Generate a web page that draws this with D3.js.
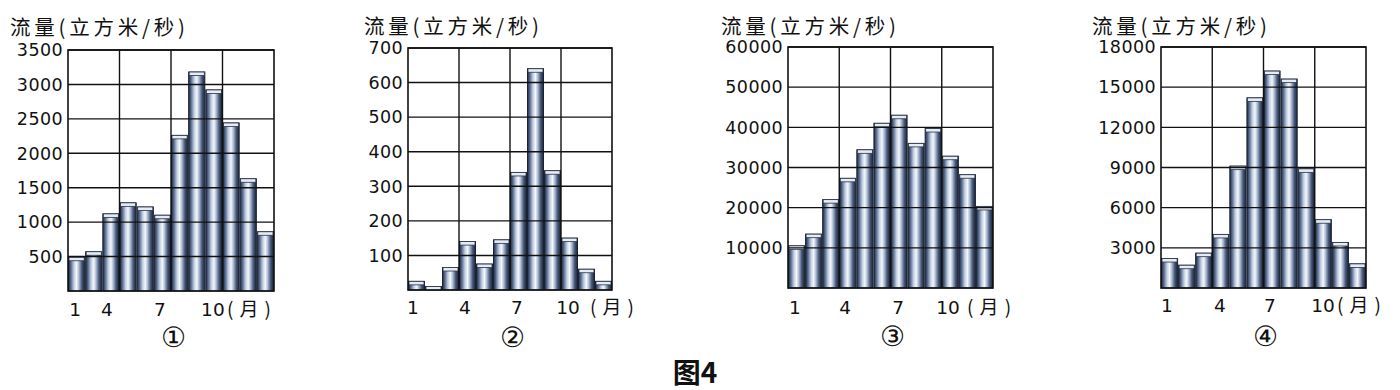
<!DOCTYPE html>
<html>
<head>
<meta charset="utf-8">
<script src="https://cdn.jsdelivr.net/npm/d3@7"></script>
<style>
  body { margin: 0; background: #fff; }
  text { fill: #111; }
</style>
</head>
<body>
<div id="chart"></div>
<script>
// monthly flow data
var months = [1, 2, 3, 4, 5, 6, 7, 8, 9, 10, 11, 12];
var monthLabels = ["1", "4", "7", "10"];
var flow1 = [490, 570, 1120, 1280, 1220, 1100, 2260, 3180, 2920, 2440, 1630, 860];
var flow2 = [25, 10, 65, 140, 75, 145, 340, 640, 345, 150, 60, 25];
var flow3 = [10500, 13400, 22000, 27300, 34400, 41000, 43000, 36000, 39700, 32800, 28200, 20300];
var flow4 = [2200, 1700, 2600, 4000, 9100, 14200, 16200, 15600, 8900, 5100, 3400, 1800];
var yTicks1 = [500, 1000, 1500, 2000, 2500, 3000, 3500];
var yTicks2 = [100, 200, 300, 400, 500, 600, 700];
var yTicks3 = [10000, 20000, 30000, 40000, 50000, 60000];
var yTicks4 = [3000, 6000, 9000, 12000, 15000, 18000];
var yTitle = "流量(立方米/秒)";
var unitLabel = "(月)";
var panelLabels = ["①", "②", "③", "④"];
var figTitle = "图4";

var width = 1400;
var height = 390;

var svg = d3.select("#chart").append("svg")
    .attr("width", width)
    .attr("height", height);

var defs = svg.append("defs");
var grad = defs.append("linearGradient")
    .attr("id", "cyl")
    .attr("x1", "0%").attr("x2", "100%")
    .attr("y1", "0%").attr("y2", "0%");
[[0, "#1e2b42"], [0.14, "#55668a"], [0.34, "#c2cfe2"], [0.5, "#f4f7fc"],
 [0.64, "#aebcd2"], [0.82, "#48587a"], [1, "#1a2436"]].forEach(function (s) {
  grad.append("stop").attr("offset", s[0]).attr("stop-color", s[1]);
});

var panels = [
  { data: flow1, ticks: yTicks1, max: 3500, left: 68, right: 274, top: 50, bottom: 291,
    titleX: 10, titleY: 35, tickAt: [0.91, 2.77, 5.86, 8.94], unitDx: 14, monthY: 316, circleX: 173, circleY: 337 },
  { data: flow2, ticks: yTicks2, max: 700, left: 408, right: 612, top: 48, bottom: 290,
    titleX: 364, titleY: 34, tickAt: [0.79, 3.85, 6.91, 9.91], unitDx: 22, monthY: 314, circleX: 512, circleY: 337 },
  { data: flow3, ticks: yTicks3, max: 60000, left: 788, right: 993, top: 47, bottom: 288,
    titleX: 721, titleY: 34, tickAt: [0.91, 3.84, 6.94, 9.87], unitDx: 19, monthY: 314, circleX: 892, circleY: 336 },
  { data: flow4, ticks: yTicks4, max: 18000, left: 1161, right: 1366, top: 47, bottom: 288,
    titleX: 1092, titleY: 34, tickAt: [0.85, 3.95, 6.88, 9.98], unitDx: 14, monthY: 312, circleX: 1265, circleY: 336 }
];

panels.forEach(function (p, pi) {
  var x = d3.scaleLinear().domain([0.5, 12.5]).range([p.left, p.right]);
  var y = d3.scaleLinear().domain([0, p.max]).range([p.bottom, p.top]);
  var g = svg.append("g");

  // bars
  var bars = g.selectAll(".bar")
      .data(months)
      .enter().append("g")
      .attr("class", "bar");

  bars.append("rect")
      .attr("x", m => x(m - 0.5) + 0.5)
      .attr("width", m => x(m + 0.5) - x(m - 0.5) - 1)
      .attr("y", (m, i) => y(p.data[i]))
      .attr("height", (m, i) => p.bottom - y(p.data[i]))
      .attr("fill", "url(#cyl)")
      .attr("stroke", "#1a2230")
      .attr("stroke-width", 1);

  // light cap on top of each bar
  bars.append("rect")
      .attr("x", m => x(m - 0.5) + 1)
      .attr("width", m => x(m + 0.5) - x(m - 0.5) - 2)
      .attr("y", (m, i) => y(p.data[i]))
      .attr("height", 3.5)
      .attr("fill", "#e6ecf4")
      .attr("stroke", "#2a3346")
      .attr("stroke-width", 0.8);

  // grid on top of bars
  g.selectAll(".hgrid")
      .data(p.ticks)
      .enter().append("line")
      .attr("x1", p.left).attr("x2", p.right)
      .attr("y1", d => y(d)).attr("y2", d => y(d))
      .attr("stroke", "#111").attr("stroke-width", 1.4);

  g.selectAll(".vgrid")
      .data([3.5, 6.5, 9.5])
      .enter().append("line")
      .attr("x1", d => x(d)).attr("x2", d => x(d))
      .attr("y1", p.top).attr("y2", p.bottom)
      .attr("stroke", "#111").attr("stroke-width", 1.4);

  g.append("rect")
      .attr("x", p.left).attr("y", p.top)
      .attr("width", p.right - p.left).attr("height", p.bottom - p.top)
      .attr("fill", "none").attr("stroke", "#111").attr("stroke-width", 1.6);

  // y tick labels
  g.selectAll(".ytick")
      .data(p.ticks)
      .enter().append("text")
      .attr("x", p.left - 5)
      .attr("y", d => y(d))
      .attr("dy", "0.36em")
      .attr("text-anchor", "end")
      .style("font-family", "'DejaVu Sans', sans-serif")
      .style("font-size", "17.5px")
      .style("letter-spacing", "0.4px")
      .text(d => d);

  // month labels
  g.selectAll(".xtick")
      .data(monthLabels)
      .enter().append("text")
      .attr("x", (d, i) => x(p.tickAt[i]))
      .attr("y", p.monthY)
      .attr("text-anchor", "middle")
      .style("font-family", "'DejaVu Sans', sans-serif")
      .style("font-size", "18.5px")
      .text(d => d);

  g.append("text")
      .attr("x", x(p.tickAt[3]) + p.unitDx)
      .attr("y", p.monthY)
      .attr("textLength", 44)
      .attr("lengthAdjust", "spacing")
      .style("font-family", "'Noto Sans CJK SC', sans-serif")
      .style("font-size", "19px")
      .text(unitLabel);

  // axis title
  g.append("text")
      .attr("x", p.titleX)
      .attr("y", p.titleY)
      .attr("textLength", 175)
      .attr("lengthAdjust", "spacing")
      .style("font-family", "'Noto Sans CJK SC', sans-serif")
      .style("font-size", "20.5px")
      .text(yTitle);

  // panel number
  g.append("text")
      .attr("x", p.circleX)
      .attr("y", p.circleY)
      .attr("dy", "0.36em")
      .attr("text-anchor", "middle")
      .style("font-family", "'DejaVu Serif', serif")
      .style("font-size", "28px")
      .text(panelLabels[pi]);
});

svg.append("text")
    .attr("x", 695)
    .attr("y", 383)
    .attr("text-anchor", "middle")
    .style("font-family", "'Noto Sans CJK SC', sans-serif")
    .style("font-size", "28px")
    .style("font-weight", "bold")
    .text(figTitle);
</script>
</body>
</html>
